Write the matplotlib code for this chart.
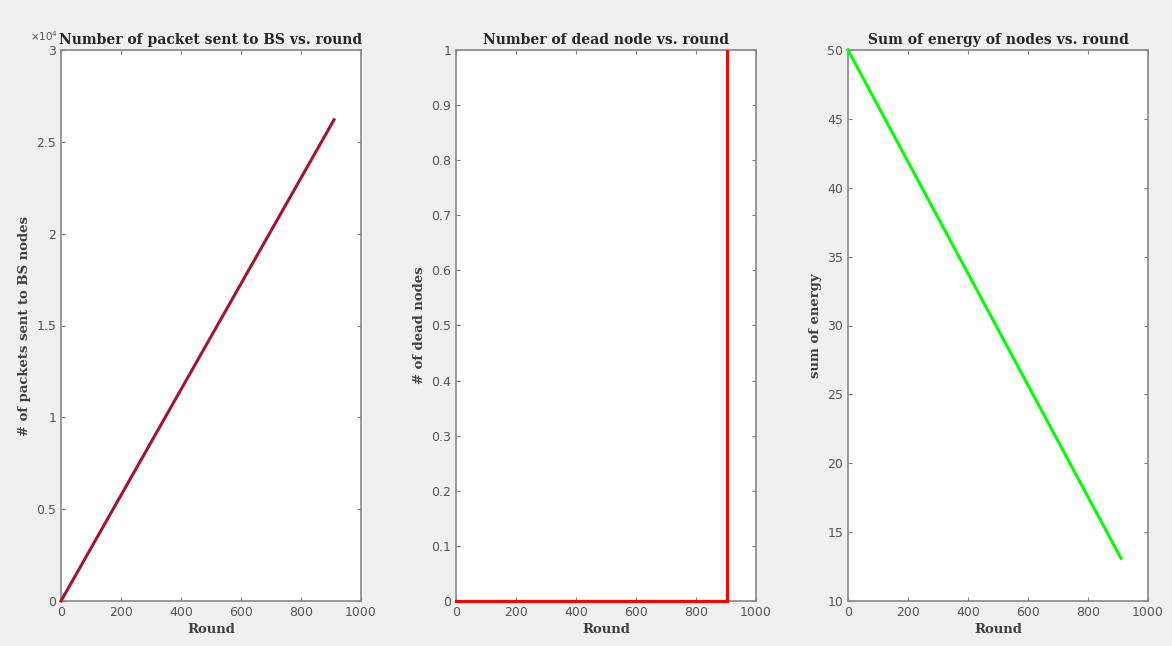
import numpy as np
import matplotlib.pyplot as plt
from matplotlib.ticker import FuncFormatter, MultipleLocator

# data
rounds = [0, 910]
packets_to_bs = [0, 26200]          # shown as x10^4
dead_rounds = [0, 902, 902]
dead_nodes = [0, 0, 1.2]
energy = [50, 13.1]

titles = ["Number of packet sent to BS vs. round",
          "Number of dead node vs. round",
          "Sum of energy of nodes vs. round"]
ylabels = ["# of packets sent to BS nodes", "# of dead nodes", "sum of energy"]

fig = plt.figure(figsize=(11.72, 6.46), dpi=100, facecolor="#f0f0f0")
lefts = [61 / 1172, 456 / 1172, 848 / 1172]
axes = [fig.add_axes([l, 45 / 646, 300 / 1172, 551 / 646]) for l in lefts]

title_font = dict(family="DejaVu Serif", fontweight="bold", fontsize=10, color="#262626")
label_font = dict(family="DejaVu Serif", fontweight="bold", fontsize=9.5, color="#404040")

ax1, ax2, ax3 = axes
ax1.plot(rounds, packets_to_bs, color="#a2142f", lw=2.2, clip_on=False, zorder=5)
ax1.set_ylim(0, 30000)
ax1.yaxis.set_major_locator(MultipleLocator(5000))
ax1.yaxis.set_major_formatter(FuncFormatter(lambda v, p: "%g" % (v / 1e4)))
# exponent marker, kept just left of the title
ax1.text(-0.01, 1.012, r"$\times10^4$", transform=ax1.transAxes, fontsize=7.5,
         color="#555555", ha="right", va="bottom")

ax2.plot(dead_rounds, dead_nodes, color="#ff0000", lw=2.2, zorder=5)
ax2.plot(dead_rounds[:2], dead_nodes[:2], color="#ff0000", lw=2.2, clip_on=False, zorder=5)
ax2.set_ylim(0, 1)
ax2.yaxis.set_major_locator(MultipleLocator(0.1))

ax3.plot(rounds, energy, color="#00ff00", lw=2.2, clip_on=False, zorder=5)
ax3.set_ylim(10, 50)
ax3.yaxis.set_major_locator(MultipleLocator(5))

for ax, t, yl in zip(axes, titles, ylabels):
    ax.set_xlim(0, 1000)
    ax.xaxis.set_major_locator(MultipleLocator(200))
    ax.xaxis.set_major_formatter(FuncFormatter(lambda v, p: "%g" % v))
    if ax is not ax1:
        ax.yaxis.set_major_formatter(FuncFormatter(lambda v, p: "%g" % round(v, 6)))
    ax.set_title(t, y=1.0, pad=4, **title_font)
    ax.set_xlabel("Round", labelpad=3, **label_font)
    ax.set_ylabel(yl, labelpad=4, **label_font)
    ax.tick_params(direction="in", top=True, right=True, length=3,
                   labelsize=9, colors="#808080", labelcolor="#555555")
    for s in ax.spines.values():
        s.set_color("#888888")
        s.set_linewidth(1.2)
    ax.set_facecolor("white")

fig.savefig("out.png", dpi=100, facecolor=fig.get_facecolor())
